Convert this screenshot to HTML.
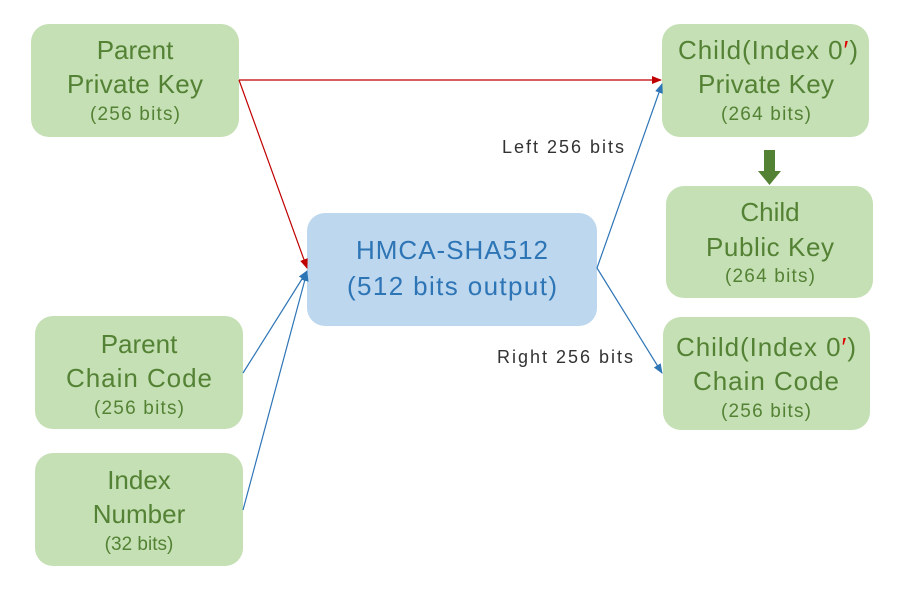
<!DOCTYPE html>
<html><head><meta charset="utf-8"><style>
html,body{margin:0;padding:0;background:#fff;}
svg{display:block;}
text{font-family:"Liberation Sans","Noto Sans CJK KR",sans-serif;}
.g{fill:#548235;text-anchor:middle;}
.b{fill:#2e75b6;text-anchor:middle;}
.m{font-size:26px;}
.s{font-size:19px;}
</style></head><body>
<svg width="924" height="601" viewBox="0 0 924 601" xmlns="http://www.w3.org/2000/svg">
<defs>
<marker id="ar" markerWidth="10" markerHeight="10" refX="9" refY="5" orient="auto" markerUnits="userSpaceOnUse"><path d="M0,1 L10,5 L0,9 z" fill="#c00000"/></marker>
<marker id="ab" markerWidth="10" markerHeight="10" refX="9" refY="5" orient="auto" markerUnits="userSpaceOnUse"><path d="M0,1 L10,5 L0,9 z" fill="#2e75b6"/></marker>
</defs>
<rect x="31" y="24" width="208" height="113" rx="18" fill="#c5e0b4"/>
<rect x="35" y="316" width="208" height="113" rx="18" fill="#c5e0b4"/>
<rect x="35" y="453" width="208" height="113" rx="18" fill="#c5e0b4"/>
<rect x="307" y="213" width="290" height="113" rx="18" fill="#bdd7ee"/>
<rect x="662" y="24" width="207" height="113" rx="18" fill="#c5e0b4"/>
<rect x="666" y="186" width="207" height="112" rx="18" fill="#c5e0b4"/>
<rect x="663" y="317" width="207" height="113" rx="18" fill="#c5e0b4"/>
<line x1="239" y1="80" x2="661" y2="80" stroke="#c00000" stroke-width="1.2" marker-end="url(#ar)"/>
<line x1="239" y1="80" x2="307" y2="268" stroke="#c00000" stroke-width="1.2" marker-end="url(#ar)"/>
<line x1="243" y1="373" x2="307" y2="271" stroke="#2e75b6" stroke-width="1.2" marker-end="url(#ab)"/>
<line x1="243" y1="510" x2="307" y2="272" stroke="#2e75b6" stroke-width="1.2" marker-end="url(#ab)"/>
<line x1="597" y1="268" x2="662" y2="84" stroke="#2e75b6" stroke-width="1.2" marker-end="url(#ab)"/>
<line x1="597" y1="268" x2="662" y2="373" stroke="#2e75b6" stroke-width="1.2" marker-end="url(#ab)"/>
<rect x="764" y="150" width="11" height="22" fill="#548235"/>
<path d="M758,171 L781,171 L769.5,185 z" fill="#548235"/>
<text class="g m" x="135" y="59">Parent</text>
<text class="g m" x="135" y="93" textLength="136">Private Key</text>
<text class="g s" x="135" y="120" textLength="90">(256 bits)</text>
<text class="g m" x="139" y="353">Parent</text>
<text class="g m" x="139" y="387" textLength="146">Chain Code</text>
<text class="g s" x="139" y="414" textLength="90">(256 bits)</text>
<text class="g m" x="139" y="489">Index</text>
<text class="g m" x="139" y="523">Number</text>
<text class="g s" x="139" y="550">(32 bits)</text>
<text class="b" x="452" y="259" font-size="26" textLength="192">HMCA-SHA512</text>
<text class="b" x="452" y="295" font-size="26" textLength="210">(512 bits output)</text>
<text class="g m" x="768" y="59" textLength="180">Child(Index 0<tspan fill="#e00000">′</tspan>)</text>
<text class="g m" x="766" y="93" textLength="136">Private Key</text>
<text class="g s" x="766" y="120" textLength="90">(264 bits)</text>
<text class="g m" x="770" y="221">Child</text>
<text class="g m" x="770" y="256" textLength="128">Public Key</text>
<text class="g s" x="770" y="282" textLength="90">(264 bits)</text>
<text class="g m" x="766" y="356" textLength="180">Child(Index 0<tspan fill="#e00000">′</tspan>)</text>
<text class="g m" x="766" y="390" textLength="146">Chain Code</text>
<text class="g s" x="766" y="417" textLength="90">(256 bits)</text>
<text x="502" y="153" font-size="18" fill="#333" textLength="122">Left 256 bits</text>
<text x="497" y="363" font-size="18" fill="#333" textLength="136">Right 256 bits</text>
</svg>
</body></html>
